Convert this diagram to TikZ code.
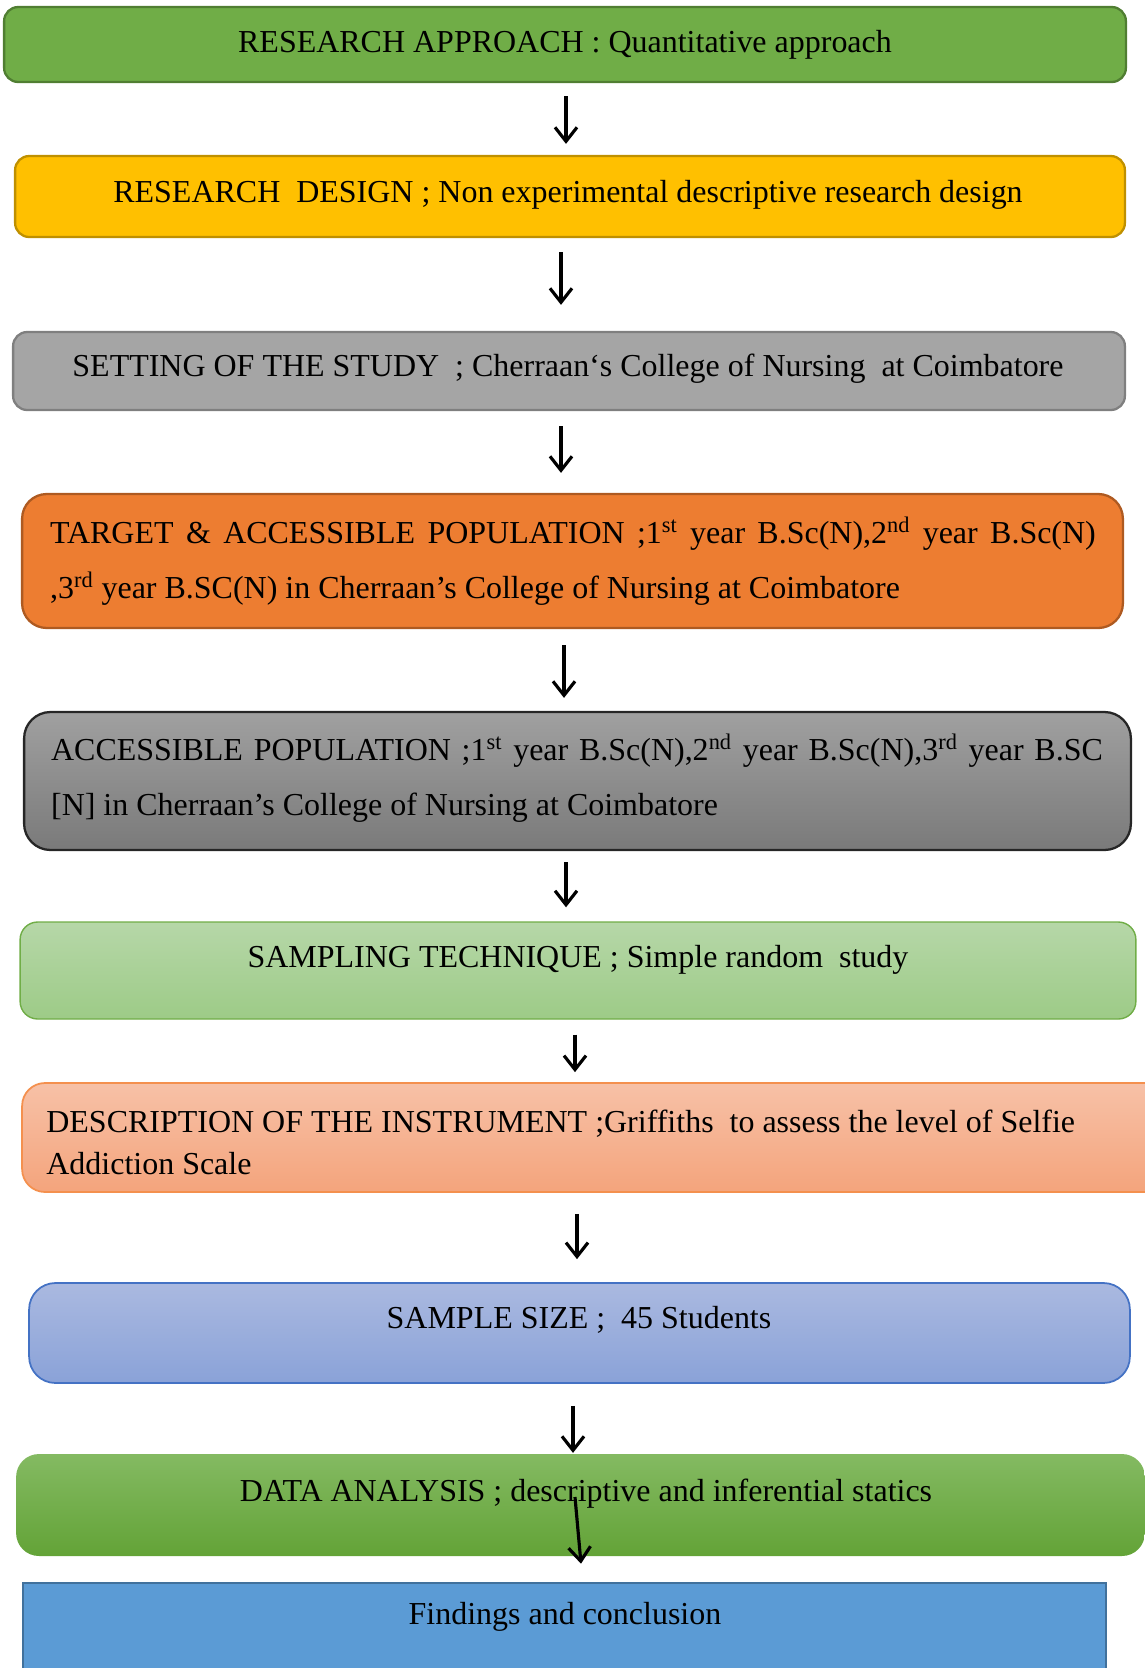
\documentclass[tikz,border=0pt]{standalone}
\usepackage{fontspec}
\setmainfont{Liberation Serif}
\usetikzlibrary{arrows.meta}
\definecolor{apprgreen}{HTML}{70AD47}
\definecolor{apprline}{HTML}{507E32}
\definecolor{designyel}{HTML}{FFC000}
\definecolor{designline}{HTML}{BF9000}
\definecolor{setgray}{HTML}{A5A5A5}
\definecolor{setline}{HTML}{7F7F7F}
\definecolor{targetor}{HTML}{ED7D31}
\definecolor{targetline}{HTML}{AE5A21}
\definecolor{accesstop}{HTML}{A0A0A0}
\definecolor{accessbot}{HTML}{7A7A7A}
\definecolor{samptop}{HTML}{B6D7A8}
\definecolor{sampbot}{HTML}{9DCB87}
\definecolor{insttop}{HTML}{F7C1A7}
\definecolor{instbot}{HTML}{F4A47C}
\definecolor{instline}{HTML}{F4904E}
\definecolor{sizetop}{HTML}{AAB9E0}
\definecolor{sizebot}{HTML}{8AA2D8}
\definecolor{sizeline}{HTML}{4472C4}
\definecolor{anatop}{HTML}{84BA62}
\definecolor{anabot}{HTML}{63A337}
\definecolor{findblue}{HTML}{5B9BD5}
\definecolor{findline}{HTML}{41719C}

\begin{document}
\begin{tikzpicture}[
    x=0.02cm, y=-0.02cm,
    flowbox/.style={draw, rounded corners=8pt, line width=1.3pt, inner sep=0pt},
    lbl/.style={font=\fontsize{18.2}{22}\selectfont, inner sep=0pt},
    arr/.style={-{Straight Barb[length=0.28cm, width=0.44cm]}, line width=1.8pt},
  ]
  \useasboundingbox (0,0) rectangle (1145,1668);

  % -- boxes --
  \node[flowbox, fill=apprgreen, draw=apprline, minimum width=22.44cm, minimum height=1.5cm]
    (approach) at (565,44.5) {};
  \node[flowbox, fill=designyel, draw=designline, minimum width=22.2cm, minimum height=1.62cm]
    (design) at (570,196.5) {};
  \node[flowbox, fill=setgray, draw=setline, minimum width=22.24cm, minimum height=1.56cm]
    (setting) at (569,371) {};
  \node[flowbox, fill=targetor, draw=targetline, rounded corners=14pt, minimum width=22.02cm, minimum height=2.68cm]
    (target) at (572.5,561) {};
  \node[flowbox, top color=accesstop, bottom color=accessbot, draw=black!85, rounded corners=15pt,
        minimum width=22.14cm, minimum height=2.76cm]
    (access) at (577.5,781) {};
  \node[flowbox, top color=samptop, bottom color=sampbot, draw=apprgreen, line width=0.8pt, rounded corners=10pt,
        minimum width=22.32cm, minimum height=1.94cm]
    (sampling) at (578,970.5) {};
  \node[flowbox, top color=insttop, bottom color=instbot, draw=instline, line width=1pt, rounded corners=13pt,
        minimum width=23.06cm, minimum height=2.18cm]
    (instrument) at (598.5,1137.5) {};
  \node[flowbox, top color=sizetop, bottom color=sizebot, draw=sizeline, line width=1pt, rounded corners=15pt,
        minimum width=22.02cm, minimum height=2.0cm]
    (size) at (579.5,1333) {};
  \node[flowbox, top color=anatop, bottom color=anabot, draw=none, rounded corners=13pt,
        minimum width=22.58cm, minimum height=2.04cm]
    (analysis) at (580.5,1505) {};
  \node[draw=findline, fill=findblue, line width=1.5pt, inner sep=0pt, minimum width=21.66cm, minimum height=2.8cm]
    (findings) at (564.5,1653) {};

  % -- texts --
  \node[lbl] (approachtxt) at (565,45) {RESEARCH APPROACH : Quantitative approach};
  \node[lbl] (designtxt) at (568,195) {RESEARCH\ \ DESIGN ; Non experimental descriptive research design};
  \node[lbl] (settingtxt) at (568,369) {SETTING OF THE STUDY\ \ ; Cherraan‘s College of Nursing\ \ at Coimbatore};
  \node[lbl, font=\fontsize{18.2}{31.3}\selectfont, text width=20.92cm, align=justify] (targettxt) at (573,561)
    {TARGET \& ACCESSIBLE POPULATION ;1\textsuperscript{st} year B.Sc(N),2\textsuperscript{nd} year B.Sc(N)\linebreak{}
     ,3\textsuperscript{rd} year B.SC(N) in Cherraan’s College of Nursing at Coimbatore};
  \node[lbl, font=\fontsize{18.2}{31.3}\selectfont, text width=21.04cm, align=justify] (accesstxt) at (577,778)
    {ACCESSIBLE POPULATION ;1\textsuperscript{st} year B.Sc(N),2\textsuperscript{nd} year B.Sc(N),3\textsuperscript{rd} year B.SC\linebreak{}
     {[N]} in Cherraan’s College of Nursing at Coimbatore};
  \node[lbl] (samplingtxt) at (578,960) {SAMPLING TECHNIQUE ; Simple random\ \ study};
  \node[lbl, font=\fontsize{18.2}{23.9}\selectfont, align=left, anchor=west] (instrumenttxt) at (46,1142)
    {DESCRIPTION OF THE INSTRUMENT ;Griffiths\ \ to assess the level of Selfie\\Addiction Scale};
  \node[lbl] (sizetxt) at (579,1320) {SAMPLE SIZE ;\ \ 45 Students};
  \node[lbl] (analysistxt) at (586,1494) {DATA ANALYSIS ; descriptive and inferential statics};
  \node[lbl] (findingstxt) at (565,1617) {Findings and conclusion};

  % -- arrows --
  \draw[arr] ([shift={(1,13)}]approach.south) -- ([shift={(-4,-11)}]design.north);
  \draw[arr] ([shift={(-9,14)}]design.south) -- ([shift={(-8,-26)}]setting.north);
  \draw[arr] ([shift={(-8,15)}]setting.south) -- ([shift={(-11.5,-20)}]target.north);
  \draw[arr] ([shift={(-8.5,16)}]target.south) -- ([shift={(-13.5,-13)}]access.north);
  \draw[arr] ([shift={(-11.5,11)}]access.south) -- ([shift={(-12,-14)}]sampling.north);
  \draw[arr] ([shift={(-3,15)}]sampling.south) -- ([shift={(-23.5,-10)}]instrument.north);
  \draw[arr] ([shift={(-21.5,21)}]instrument.south) -- ([shift={(-2.5,-23)}]size.north);
  \draw[arr] ([shift={(-6.5,22)}]size.south) -- ([shift={(-7.5,0)}]analysis.north);
  \draw[arr] ([shift={(-5.5,-8)}]analysis.center) -- ([shift={(16.5,-18)}]findings.north);

\end{tikzpicture}
\end{document}
